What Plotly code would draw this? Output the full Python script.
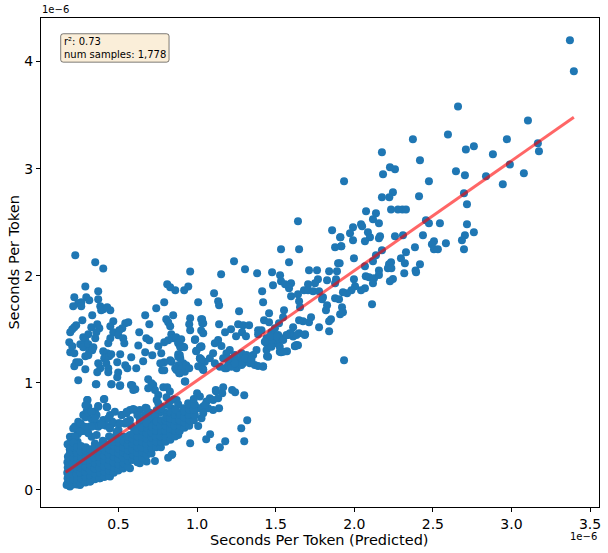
import plotly.graph_objects as go

# All values are in units of 1e-6 seconds per token.
upper_right = [(3.372,4.20),(3.397,3.91),(2.66,3.58),(3.105,3.45),(2.373,3.275),(2.596,3.32),(2.971,3.275),(3.168,3.237),(3.175,3.162),(2.71,3.18),(2.761,3.21),(2.882,3.134),(2.418,3.078),(2.99,3.04),(2.647,2.976),(2.704,2.938),(2.838,2.929),(3.079,2.957),(2.945,2.854),(2.475,2.882),(2.698,2.77),(2.412,2.742),(2.717,2.668),(2.306,2.62),(2.329,2.62),(2.456,2.518),(2.475,2.49),(2.545,2.49),(2.717,2.48),(2.31,2.378),(2.437,2.378),(2.704,2.378),(2.761,2.406),(2.685,2.331),(2.507,2.322),(2.494,2.294),(2.583,2.303),(2.386,2.266),(2.507,2.247),(2.532,2.247),(2.698,2.247),(2.329,2.219),(2.297,2.163),(2.322,2.117),(2.418,2.107),(2.39,2.05)]
upper_mid = [(2.176,3.153),(1.935,2.882),(2.227,3.013),(2.259,2.994),(2.183,2.948),(2.246,2.78),(2.176,2.733),(2.223,2.733),(2.075,2.602),(2.138,2.583),(2.234,2.62),(2.278,2.62),(2.119,2.528),(2.157,2.49),(2.043,2.48),(2.05,2.462),(1.992,2.453),(2.087,2.406),(1.973,2.397),(2.10,2.36),(1.912,2.36),(1.992,2.331),(2.068,2.322),(2.164,2.369),(2.157,2.35),(2.259,2.369),(2.176,2.238),(2.138,2.191),(1.998,2.163),(2.119,2.135),(2.234,2.126),(2.221,2.107),(2.068,2.089),(1.907,2.117),(1.918,2.275),(2.157,2.05),(2.214,2.07),(2.236,2.07),(2.318,2.023),(2.393,2.033),(2.073,1.995),(2.094,1.986),(2.126,1.977),(2.157,2.008),(1.998,1.967),(2.119,1.93),(2.246,1.97),(2.227,1.949),(2.068,1.883),(2.043,1.865),(2.005,1.902),(1.982,1.865),(1.954,1.837),(1.928,1.846),(2.113,1.734),(1.935,1.211)]
mid_band = [(1.897,2.117),(1.878,2.266),(1.916,2.275),(1.91,2.36),(1.859,2.425),(1.642,2.509),(1.534,2.247),(1.649,2.247),(1.585,2.126),(1.235,2.135),(1.305,2.06),(1.382,2.023),(1.477,2.033),(1.712,2.051),(1.763,2.051),(1.84,2.042),(1.89,2.042),(1.528,2.005),(1.769,1.967),(1.75,1.93),(1.706,1.92),(1.827,1.958),(1.884,1.967),(1.878,1.93),(1.534,1.949),(1.598,1.93),(1.585,1.883),(1.56,1.92),(1.483,1.911),(1.414,1.855),(1.42,1.753),(1.267,1.668),(1.458,1.65),(1.553,1.678),(1.598,1.809),(1.642,1.827),(1.68,1.865),(1.706,1.865),(1.738,1.855),(1.776,1.855),(1.649,1.762),(1.655,1.706),(1.801,1.8),(1.795,1.781),(1.878,1.79),(1.903,1.781),(1.827,1.725),(1.82,1.678),(1.922,1.706),(1.928,1.659),(1.91,1.64),(1.725,1.612),(1.712,1.566),(1.674,1.575),(1.649,1.585),(1.547,1.612),(1.521,1.557),(1.852,1.594),(1.84,1.575),(1.776,1.519),(1.84,1.482),(1.611,1.519),(1.687,1.454),(1.649,1.463),(1.598,1.454),(1.642,1.351),(1.623,1.342),(1.572,1.295),(1.534,1.286),(1.445,1.248),(1.42,1.155)]
band_1_to_1p6 = [(1.032,1.594),(1.039,1.557),(1.14,1.547),(1.178,1.472),(1.216,1.5),(1.261,1.547),(1.293,1.538),(1.331,1.538),(1.286,1.472),(1.248,1.435),(1.311,1.435),(1.108,1.837),(1.134,1.762),(1.14,1.725),(1.153,2.014),(1.426,1.585),(1.458,1.566),(1.388,1.491),(1.41,1.491),(1.388,1.453),(1.442,1.416),(1.473,1.472),(1.495,1.509),(1.516,1.447),(1.484,1.40),(1.537,1.416),(1.505,1.369),(1.442,1.369),(1.526,1.291),(1.452,1.245),(1.579,1.447),(1.611,1.432),(1.632,1.447),(1.685,1.447),(1.23,1.167),(1.272,1.183),(1.314,1.214),(1.357,1.26),(1.293,1.245),(1.208,1.307),(1.187,1.276),(1.166,1.229),(1.102,1.276),(1.081,1.229),(1.049,1.198),(1.028,1.167),(1.039,1.12),(1.113,1.183),(1.145,1.151),(1.187,1.136),(1.251,1.136),(1.293,1.183),(1.336,1.183),(1.367,1.167),(1.388,1.158),(1.42,1.151),(1.283,1.276),(1.336,1.245),(1.378,1.307),(1.176,1.136),(1.219,1.214),(1.24,1.26),(1.314,1.26),(1.134,1.40),(1.113,1.369),(1.155,1.344),(1.028,1.338),(1.018,1.229),(1.198,1.167),(1.261,1.214),(1.283,1.167),(1.304,1.229),(1.346,1.214),(1.219,1.151),(1.24,1.183),(1.198,1.229),(1.442,1.307),(1.452,1.354),(1.473,1.338),(1.495,1.40),(1.526,1.40),(1.526,1.338),(1.473,1.40),(1.505,1.432),(1.548,1.40),(1.463,1.432),(1.431,1.385),(1.59,1.463),(1.569,1.447),(1.632,1.354),(1.622,1.344),(1.548,1.291)]
below_band = [(1.319,0.651),(1.281,0.576),(1.3,0.455),(1.179,0.455),(1.145,0.4),(1.083,0.52),(1.058,0.473),(0.956,0.436),(0.842,0.333),(1.3,0.884),(1.223,0.934),(1.242,0.912),(1.166,0.959),(1.12,0.921),(1.16,0.903),(1.14,0.763),(1.0,0.903),(1.018,0.872),(0.943,0.81),(1.081,0.856),(1.102,0.84),(1.134,0.856),(1.06,0.825),(1.039,0.78),(1.102,0.747),(1.07,0.763),(1.007,0.763),(0.975,0.716),(0.912,0.763),(0.869,0.731),(1.028,0.669),(1.007,0.598),(0.954,0.669),(0.912,0.654),(0.869,0.654),(0.827,0.607),(0.933,0.607),(0.88,0.514),(0.837,0.514),(0.848,0.576),(0.89,0.585),(0.986,0.70),(1.039,0.716),(0.986,0.794),(1.05,0.794),(0.954,0.731),(0.89,0.70),(0.922,1.012),(0.852,0.847),(1.119,0.934)]
band_0p8_to_1 = [(0.986,1.40),(1.018,1.332),(0.996,1.301),(1.018,1.23),(1.018,1.152),(0.88,1.245),(0.89,1.26),(0.837,1.198),(0.912,1.183),(0.933,1.152),(0.869,1.12),(0.89,1.089),(0.922,1.105),(0.89,1.354),(0.912,1.338),(0.88,1.385)]
upper_left = [(0.225,2.191),(0.352,2.126),(0.403,2.069),(0.956,2.041),(0.289,1.901),(0.371,1.855),(0.219,1.799),(0.295,1.799),(0.314,1.771),(0.371,1.78),(0.263,1.752),(0.244,1.743),(0.212,1.715),(0.263,1.715),(0.384,1.715),(0.403,1.687),(0.39,1.677),(0.448,1.677),(0.428,1.705),(0.333,1.631),(0.27,1.584),(0.231,1.537),(0.219,1.519),(0.206,1.5),(0.193,1.472),(0.327,1.519),(0.365,1.547),(0.378,1.509),(0.359,1.472),(0.467,1.575),(0.448,1.528),(0.467,1.472),(0.562,1.565),(0.543,1.556),(0.524,1.509),(0.505,1.491),(0.498,1.444),(0.448,1.416),(0.435,1.369),(0.53,1.416),(0.537,1.369),(0.308,1.453),(0.276,1.425),(0.352,1.416),(0.289,1.397),(0.187,1.379),(0.206,1.341),(0.193,1.285),(0.219,1.276),(0.231,1.192),(0.219,1.155),(0.25,1.192),(0.257,1.36),(0.276,1.332),(0.308,1.36),(0.34,1.332),(0.314,1.295),(0.289,1.248),(0.308,1.257),(0.333,1.304),(0.289,1.127),(0.244,1.024),(0.359,0.987),(0.371,1.183),(0.384,1.136),(0.365,1.099),(0.403,1.295),(0.428,1.276),(0.409,1.229),(0.441,1.248),(0.454,1.267),(0.422,1.183),(0.435,1.136),(0.435,1.099),(0.492,1.192),(0.511,1.267),(0.581,1.239),(0.543,1.164),(0.556,1.136),(0.613,1.136),(0.657,1.201),(0.498,1.098),(0.492,1.052),(0.454,0.987),(0.511,0.977),(0.588,0.977),(0.607,0.94),(0.626,1.35),(0.677,1.416),(0.696,1.397),(0.67,1.285),(0.632,1.472),(0.696,1.547),(0.67,1.631),(0.715,1.257),(0.772,1.276),(0.753,1.341),(0.791,1.379),(0.836,1.453),(0.848,1.416),(0.816,1.397),(0.74,1.696),(0.791,1.752),(0.81,1.92),(0.829,1.892),(0.861,1.864),(0.918,1.864),(0.944,1.901),(1.007,1.752),(0.848,1.631),(0.804,1.593),(0.816,1.565),(0.829,1.528),(0.956,1.603),(0.95,1.547),(0.956,1.491),(1.026,1.593),(1.033,1.556),(1.026,1.49),(1.039,1.463),(0.988,1.407),(0.867,1.425),(0.899,1.407),(0.88,1.369),(0.918,1.332),(0.893,1.332),(1.026,1.341),(0.994,1.295),(0.88,1.267),(0.893,1.229),(1.026,1.22),(0.829,1.211),(0.791,1.192),(0.766,1.183),(0.88,1.164),(0.861,1.136),(0.899,1.127),(0.931,1.164),(0.95,1.136),(0.778,1.117),(0.791,1.117),(0.886,1.089),(1.007,1.155),(1.039,1.127),(0.925,1.014)]
low_top = [(0.301,0.841),(0.407,0.847),(0.371,0.785),(0.308,0.778),(0.428,0.772),(0.35,0.732),(0.276,0.7),(0.244,0.638),(0.223,0.592),(0.202,0.498),(0.18,0.427),(0.297,0.732),(0.446,0.7),(0.403,0.654),(0.52,0.7),(0.573,0.747),(0.604,0.747),(0.636,0.747),(0.679,0.763),(0.668,0.7),(0.551,0.716),(0.573,0.654),(0.318,0.592),(0.255,0.592),(0.329,0.498),(0.498,0.623),(0.446,0.592),(0.636,0.623),(0.679,0.67),(0.743,0.747),(0.753,0.887),(0.732,0.934),(0.721,0.981),(0.689,1.034),(0.71,0.996),(0.689,0.95),(0.785,0.959),(0.81,0.959),(0.827,0.919),(0.806,0.866),(0.743,0.841),(0.753,0.81),(0.827,0.825),(0.87,0.841),(0.774,0.778),(0.594,0.934),(0.579,0.981),(0.509,0.971),(0.456,0.987),(0.356,0.987),
 (0.838,0.327),(0.816,0.302),(0.732,0.271),(0.679,0.265),(0.636,0.25),(0.573,0.203),(0.498,0.181),(0.446,0.125),(0.382,0.109),(0.318,0.078),(0.255,0.047),(0.191,0.032),(0.17,0.047),
 (0.20,0.45),(0.22,0.5),(0.19,0.38),(0.24,0.52),(0.26,0.62),(0.29,0.68),(0.31,0.72),(0.24,0.45),(0.28,0.55),(0.33,0.66),(0.36,0.7),(0.38,0.62),(0.35,0.6),(0.42,0.6),(0.46,0.64),(0.5,0.56),(0.44,0.5),(0.4,0.46),(0.48,0.5),(0.54,0.62),(0.58,0.6),(0.62,0.7),(0.6,0.56),(0.66,0.64),(0.7,0.72),(0.72,0.62),(0.76,0.72),(0.74,0.66),(0.8,0.72),(0.84,0.76),(0.88,0.8)]
low_mid_layer = [(0.303,0.84),(0.41,0.85),(0.29,0.79),(0.371,0.778),(0.329,0.731),(0.212,0.575),(0.191,0.498),(0.176,0.426),(0.424,0.778),(0.477,0.731),(0.52,0.7),(0.552,0.731),(0.594,0.756),(0.672,0.768),(0.732,0.684),(0.35,0.669),(0.371,0.591),(0.329,0.591),(0.286,0.591),(0.255,0.544),(0.223,0.498),(0.233,0.435),(0.308,0.529),(0.361,0.513),(0.392,0.607),(0.435,0.669),(0.467,0.622),(0.509,0.622),(0.445,0.575),(0.488,0.544),(0.53,0.498),(0.573,0.513),(0.604,0.575),(0.636,0.653),(0.689,0.669),(0.71,0.575),(0.753,0.638),(0.795,0.607),(0.827,0.669),(0.732,0.513),(0.668,0.498),(0.626,0.467),(0.552,0.638),(0.403,0.451),(0.35,0.435),(0.552,0.435),(0.636,0.544),(0.774,0.762),(0.816,0.793),(0.838,0.715)]
dense_core = [(0.175,0.06),(0.176,0.11),(0.174,0.16),(0.177,0.21),(0.175,0.26),(0.178,0.31),(0.19,0.04),(0.192,0.09),(0.188,0.14),(0.191,0.19),(0.19,0.24),(0.193,0.29),(0.19,0.34),(0.194,0.39),
 (0.21,0.05),(0.212,0.10),(0.208,0.15),(0.211,0.2),(0.209,0.25),(0.213,0.3),(0.21,0.35),(0.212,0.4),(0.214,0.44),(0.235,0.05),(0.237,0.10),(0.233,0.15),(0.236,0.2),(0.234,0.25),(0.238,0.3),(0.235,0.35),(0.237,0.4),
 (0.26,0.06),(0.262,0.11),(0.258,0.16),(0.261,0.21),(0.259,0.26),(0.263,0.31),(0.26,0.36),(0.262,0.41),(0.29,0.07),(0.292,0.12),(0.288,0.17),(0.291,0.22),(0.289,0.27),(0.293,0.32),(0.29,0.37),(0.292,0.40),
 (0.32,0.08),(0.322,0.13),(0.318,0.18),(0.321,0.23),(0.319,0.28),(0.323,0.33),(0.32,0.38),(0.35,0.10),(0.352,0.15),(0.348,0.2),(0.351,0.25),(0.349,0.3),(0.353,0.35),(0.35,0.4),
 (0.38,0.11),(0.382,0.16),(0.378,0.21),(0.381,0.26),(0.379,0.31),(0.383,0.36),(0.38,0.41),(0.41,0.12),(0.412,0.17),(0.408,0.22),(0.411,0.27),(0.409,0.32),(0.413,0.37),(0.41,0.42),
 (0.44,0.13),(0.442,0.18),(0.438,0.23),(0.441,0.28),(0.439,0.33),(0.443,0.38),(0.44,0.43),(0.47,0.16),(0.472,0.21),(0.468,0.26),(0.471,0.31),(0.469,0.36),(0.473,0.41),(0.47,0.45),
 (0.50,0.19),(0.502,0.24),(0.498,0.29),(0.501,0.34),(0.499,0.39),(0.503,0.44),(0.50,0.48),(0.53,0.2),(0.532,0.25),(0.528,0.3),(0.531,0.35),(0.529,0.4),(0.533,0.45),
 (0.56,0.22),(0.562,0.27),(0.558,0.32),(0.561,0.37),(0.559,0.42),(0.563,0.47),(0.56,0.5),(0.59,0.28),(0.592,0.33),(0.588,0.38),(0.591,0.43),(0.589,0.48),(0.593,0.52),
 (0.62,0.26),(0.622,0.3),(0.618,0.35),(0.621,0.4),(0.619,0.45),(0.623,0.5),(0.62,0.55),(0.65,0.3),(0.652,0.35),(0.648,0.4),(0.651,0.45),(0.649,0.5),(0.653,0.55),(0.65,0.58),
 (0.68,0.33),(0.682,0.38),(0.678,0.43),(0.681,0.48),(0.679,0.53),(0.683,0.58),(0.68,0.62),(0.71,0.34),(0.712,0.39),(0.708,0.44),(0.711,0.49),(0.709,0.54),(0.713,0.59),
 (0.74,0.4),(0.742,0.45),(0.738,0.5),(0.741,0.55),(0.739,0.6),(0.743,0.64),(0.77,0.4),(0.772,0.45),(0.768,0.5),(0.771,0.55),(0.769,0.6),(0.773,0.65),
 (0.8,0.45),(0.802,0.5),(0.798,0.55),(0.801,0.6),(0.799,0.65),(0.803,0.68),(0.83,0.47),(0.832,0.52),(0.828,0.57),(0.831,0.62),(0.829,0.67),(0.833,0.72),
 (0.86,0.5),(0.862,0.55),(0.858,0.6),(0.861,0.65),(0.859,0.7),(0.863,0.75),(0.89,0.55),(0.892,0.6),(0.888,0.65),(0.891,0.7),(0.92,0.58),(0.922,0.63),(0.918,0.68),(0.921,0.73),
 (0.95,0.6),(0.952,0.65),(0.948,0.7),(0.951,0.75),(0.949,0.8),(0.98,0.65),(0.982,0.7),(0.978,0.75),(0.981,0.8),(0.979,0.85)]

fit_x = [0.164, 3.397]
fit_y = [0.165, 3.48]
x_ticks = [0.5, 1.0, 1.5, 2.0, 2.5, 3.0, 3.5]
y_ticks = [0, 1, 2, 3, 4]
x_title = "Seconds Per Token (Predicted)"
y_title = "Seconds Per Token"
stats_text = "r²: 0.73<br>num samples: 1,778"

points = upper_right + upper_mid + mid_band + band_1_to_1p6 + below_band + band_0p8_to_1 + upper_left + low_top + low_mid_layer + dense_core
x_pred = [p[0] for p in points]
y_true = [p[1] for p in points]

FONT = "DejaVu Sans"
fig = go.Figure()
fig.add_trace(go.Scatter(x=x_pred, y=y_true, mode="markers", marker=dict(color="#1f77b4", size=8, line=dict(width=0)), hoverinfo="skip"))
fig.add_trace(go.Scatter(x=fit_x, y=fit_y, mode="lines", line=dict(color="rgba(255,0,0,0.6)", width=3), hoverinfo="skip"))

axis = dict(showgrid=False, zeroline=False, showline=True, mirror=True, linecolor="black", linewidth=1, automargin=False,
            ticks="outside", ticklen=4, tickwidth=1, tickcolor="black", tickfont=dict(family=FONT, size=14, color="black"))
fig.update_layout(width=608, height=553, autosize=False, showlegend=False, plot_bgcolor="white", paper_bgcolor="white",
    margin=dict(l=41, r=8.5, t=18, b=46),
    font=dict(family=FONT, color="black"),
    xaxis=dict(axis, range=[0.007, 3.557], tickvals=x_ticks, ticktext=["0.5","1.0","1.5","2.0","2.5","3.0","3.5"]),
    yaxis=dict(axis, range=[-0.159, 4.407], tickvals=y_ticks),
    shapes=[dict(type="path", xref="paper", yref="paper", layer="above",
                 path="M 0.0353 0.9630 Q 0.0353 0.9678 0.0400 0.9678 L 0.2248 0.9678 Q 0.2295 0.9678 0.2295 0.9630 L 0.2295 0.9145 Q 0.2295 0.9097 0.2248 0.9097 L 0.0400 0.9097 Q 0.0353 0.9097 0.0353 0.9145 Z",
                 fillcolor="rgba(245,222,179,0.5)", line=dict(color="rgba(0,0,0,0.5)", width=1))],
    annotations=[
        dict(text=stats_text, xref="paper", yref="paper", x=0.0395, y=0.9655, xanchor="left", yanchor="top", align="left", showarrow=False, borderpad=0, font=dict(family=FONT, size=10, color="black")),
        dict(text="1e−6", xref="paper", yref="paper", x=0, y=1.004, xanchor="left", yanchor="bottom", showarrow=False, borderpad=0, font=dict(family=FONT, size=10, color="black")),
        dict(text="1e−6", xref="paper", yref="paper", x=0.9985, y=-0.048, xanchor="right", yanchor="top", showarrow=False, borderpad=0, font=dict(family=FONT, size=10, color="black")),
        dict(text=x_title, xref="paper", yref="paper", x=0.499, y=-0.0485, xanchor="center", yanchor="top", showarrow=False, borderpad=0, font=dict(family=FONT, size=14.5, color="black")),
        dict(text=y_title, xref="paper", yref="paper", x=-0.05, y=0.5, xanchor="center", yanchor="middle", textangle=-90, showarrow=False, borderpad=0, font=dict(family=FONT, size=14.5, color="black")),
    ])
fig.write_html("out.html", config=dict(displayModeBar=False), post_script="document.body.style.margin='0';document.documentElement.style.overflow='hidden';")
